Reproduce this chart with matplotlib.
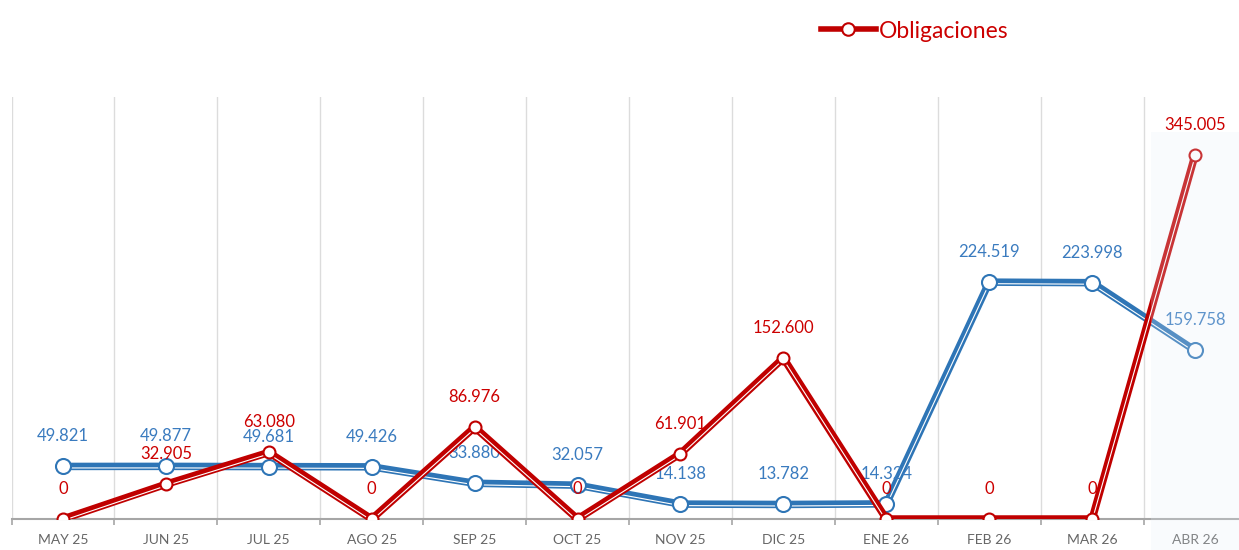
import numpy as np
import matplotlib.pyplot as plt
import matplotlib.transforms as mtransforms
from matplotlib.lines import Line2D

plt.rcParams['font.family'] = ['Lato', 'DejaVu Sans']

meses = ['MAY 25', 'JUN 25', 'JUL 25', 'AGO 25', 'SEP 25', 'OCT 25',
         'NOV 25', 'DIC 25', 'ENE 26', 'FEB 26', 'MAR 26', 'ABR 26']
ingresos = [49821, 49877, 49681, 49426, 33880, 32057,
            14138, 13782, 14324, 224519, 223998, 159758]
obligaciones = [0, 32905, 63080, 0, 86976, 0,
                61901, 152600, 0, 0, 0, 345005]

azul = '#2e75b6'
rojo = '#c00000'

W, H = 1239, 550
fig = plt.figure(figsize=(W / 100, H / 100), dpi=100)
# plot area runs a little past the right edge of the figure
ax = fig.add_axes([11.5 / W, 31 / H, 1235 / W, 422 / H])
ax.set_xlim(-0.5, 11.5)
ax.set_ylim(0, 400000)

x = np.arange(len(meses))


def fmt(v):
    return '{:,}'.format(v).replace(',', '.')


def serie(vals, color, lblcolor, ms, z):
    # thick line with a thin white stripe just below its centre
    ax.plot(x, vals, color=color, lw=5.4, solid_joinstyle='round',
            solid_capstyle='round', zorder=z)
    off = mtransforms.ScaledTranslation(0, -1.1 / 72, fig.dpi_scale_trans)
    ax.plot(x, vals, color='white', lw=0.8, solid_joinstyle='round',
            transform=ax.transData + off, zorder=z + 0.1)
    ax.plot(x, vals, ls='none', marker='o', ms=ms, mfc='white',
            mec=color, mew=1.5, zorder=z + 0.2)
    for xi, v in zip(x, vals):
        ax.annotate(fmt(v), (xi, v), xytext=(0, 21.6), textcoords='offset points',
                    ha='center', va='center', fontsize=12, color=lblcolor,
                    zorder=z + 0.3)


serie(ingresos, azul, '#3a7bbf', 10.8, 4)
serie(obligaciones, rojo, '#cc0000', 8.6, 5)

# x axis: labels at month centres, ticks and grid at boundaries
ax.set_xticks(x)
ax.set_xticklabels(meses)
ax.set_xticks(np.arange(-0.5, 12, 1), minor=True)
ax.tick_params(axis='x', which='major', length=0, pad=10.5, labelsize=10,
               labelcolor='#666666')
ax.tick_params(axis='x', which='minor', length=4.5, width=1.2, color='#a6a6a6')
ax.grid(which='minor', axis='x', color='#dcdcdc', lw=1)
ax.set_yticks([])
for s in ['top', 'right', 'left']:
    ax.spines[s].set_visible(False)
ax.spines['bottom'].set_color('#a6a6a6')
ax.spines['bottom'].set_linewidth(1.5)
ax.set_axisbelow(True)

# highlight band over the last month
ax.axvspan(10.57, 11.6, ymin=-31 / 422, ymax=366800 / 400000, clip_on=False,
           color='#e6f0fa', alpha=0.22, lw=0, zorder=10)

proxy = Line2D([], [], color=rojo, lw=4, marker='o', ms=9, mfc='white',
               mec=rojo, mew=1.5)
leg = fig.legend(handles=[proxy], labels=['Obligaciones'], loc='center left',
                 bbox_to_anchor=(800 / W, 1 - 31 / H), frameon=False,
                 fontsize=16.5, handlelength=2.4, handletextpad=0.15)
for t in leg.get_texts():
    t.set_color('#cc0000')

fig.savefig('out.png', dpi=100)
